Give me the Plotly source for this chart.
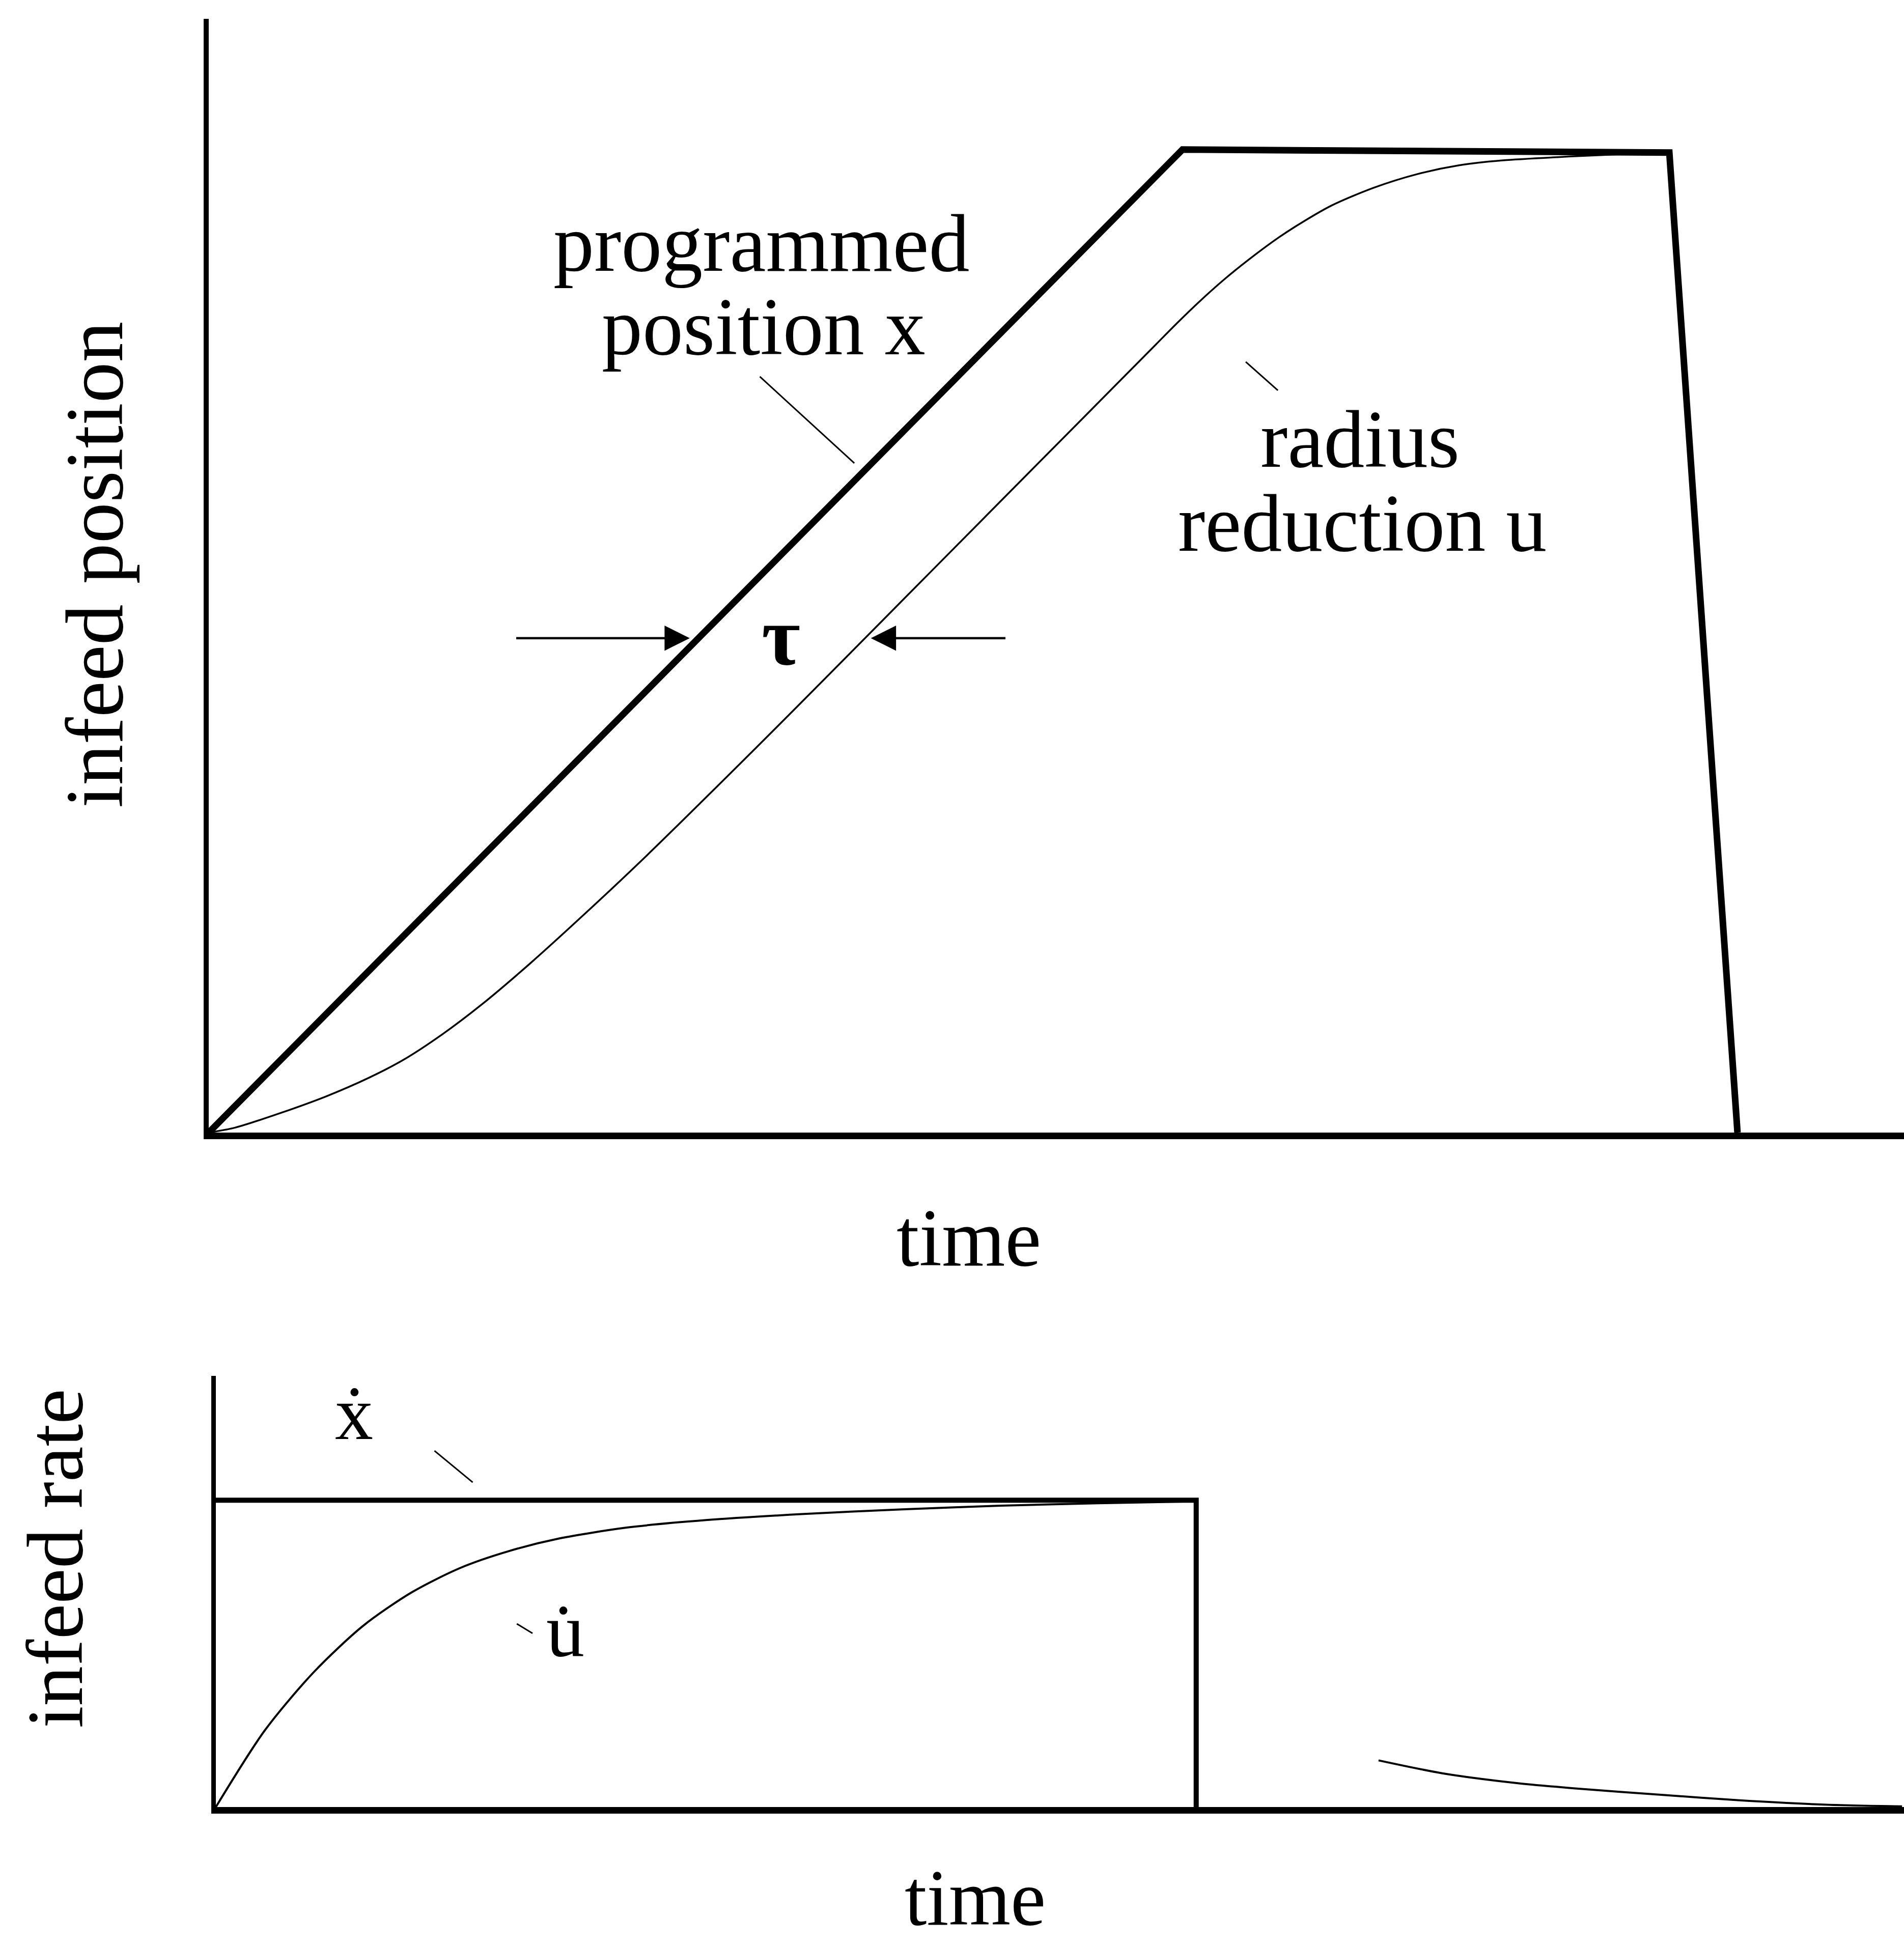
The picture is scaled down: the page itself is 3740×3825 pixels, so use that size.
import plotly.graph_objects as go

W, H = 3740, 3825

# ---- upper panel: infeed position vs time ----
prog_t = [0.0, 10.0, 15.0, 15.7]
prog_x = [0.0, 10.0, 9.97, 0.0]

u_t = [0.0, 0.27, 0.74, 1.21, 1.65, 2.0, 2.4, 2.8, 3.3, 3.9, 4.5, 5.2,
       6.0, 7.0, 8.0, 9.0, 9.73, 9.95, 10.17, 10.43, 10.68, 10.98, 11.23,
       11.53, 11.96, 12.41, 12.84, 13.29, 13.99, 14.44, 15.0]
u_val = [0.0, 0.05, 0.2, 0.37, 0.56, 0.74, 1.0, 1.3, 1.72, 2.26, 2.82, 3.5,
         4.29, 5.29, 6.29, 7.29, 8.02, 8.24, 8.45, 8.68, 8.88, 9.1, 9.26,
         9.43, 9.61, 9.75, 9.84, 9.89, 9.93, 9.95, 9.97]

# ---- lower panel: infeed rate vs time ----
xdot_t = [0.0, 10.0, 10.0]
xdot_val = [1.0, 1.0, 0.0]

udot_rise_t = [0.0, 0.5, 1.0, 1.5, 2.0, 2.5, 3.0, 3.5, 4.2, 5.0, 6.0, 7.0,
               8.0, 9.0, 10.0]
udot_rise = [0.0, 0.25, 0.44, 0.59, 0.70, 0.78, 0.835, 0.875, 0.911, 0.935,
             0.955, 0.97, 0.982, 0.99, 0.996]
udot_decay_t = [11.86, 12.51, 13.27, 13.85, 14.78, 15.54, 16.4, 17.2]
udot_decay = [0.152, 0.11, 0.078, 0.061, 0.039, 0.022, 0.008, 0.002]

FONT = "Liberation Serif, Times New Roman, DejaVu Serif, serif"
BLACK = "#000000"

fig = go.Figure()

fig.add_trace(go.Scatter(x=prog_t, y=prog_x, mode="lines", xaxis="x", yaxis="y",
                         line=dict(color=BLACK, width=13), cliponaxis=False,
                         showlegend=False, hoverinfo="skip"))
fig.add_trace(go.Scatter(x=u_t, y=u_val, mode="lines", xaxis="x", yaxis="y",
                         line=dict(color=BLACK, width=3.5, shape="spline", smoothing=0.8),
                         cliponaxis=False, showlegend=False, hoverinfo="skip"))

fig.add_trace(go.Scatter(x=xdot_t, y=xdot_val, mode="lines", xaxis="x2", yaxis="y2",
                         line=dict(color=BLACK, width=10), cliponaxis=False,
                         showlegend=False, hoverinfo="skip"))
fig.add_trace(go.Scatter(x=udot_rise_t, y=udot_rise, mode="lines", xaxis="x2", yaxis="y2",
                         line=dict(color=BLACK, width=4, shape="spline", smoothing=0.8),
                         cliponaxis=False, showlegend=False, hoverinfo="skip"))
fig.add_trace(go.Scatter(x=udot_decay_t, y=udot_decay, mode="lines", xaxis="x2", yaxis="y2",
                         line=dict(color=BLACK, width=4, shape="spline", smoothing=0.8),
                         cliponaxis=False, showlegend=False, hoverinfo="skip"))


def px_x(X):
    return X / W


def px_y(Y):
    return 1 - Y / H


axis_common = dict(showgrid=False, zeroline=False, ticks="", showticklabels=False,
                   showline=True, linecolor=BLACK, fixedrange=True)

fig.update_layout(
    width=W, height=H,
    margin=dict(l=0, r=0, t=0, b=0),
    paper_bgcolor="white", plot_bgcolor="white",
    xaxis=dict(domain=[px_x(410), 1.0], range=[0, 17.41], anchor="y",
               linewidth=13, **axis_common),
    yaxis=dict(domain=[px_y(2225), px_y(37)], range=[0, 11.33], anchor="x",
               linewidth=10, **axis_common),
    xaxis2=dict(domain=[px_x(424), 1.0], range=[0, 17.22], anchor="y2",
                linewidth=13, **axis_common),
    yaxis2=dict(domain=[px_y(3550), px_y(2703)], range=[0, 1.405], anchor="x2",
                linewidth=9, **axis_common),
)

annotations = []


def label(text, X, Y, size=160, angle=0, bold=False):
    annotations.append(dict(
        text=f"<b>{text}</b>" if bold else text,
        x=px_x(X), y=px_y(Y), xref="paper", yref="paper",
        xanchor="center", yanchor="middle", showarrow=False, textangle=angle,
        borderpad=0,
        font=dict(family=FONT, size=size, color=BLACK)))


label("programmed", 1496, 478)
label("position x", 1500, 642)
label("radius", 2671, 863)
label("reduction u", 2676, 1028)
label("time", 1903, 2432)
label("time", 1915, 3728, size=156)
label("infeed position", 186, 1110, angle=-90)
label("infeed rate", 108, 3062, size=157, angle=-90)
label("\u03c4", 1534, 1250, size=165, bold=True)
label("\u1e8b", 695, 2776, size=150)
label("u\u0307", 1110, 3203, size=150)

# tau arrows pointing at the two curves
for tip, tail in [(4.94, 3.15), (6.80, 8.19)]:
    annotations.append(dict(
        x=tip, y=5.03, ax=tail, ay=5.03, xref="x", yref="y", axref="x", ayref="y",
        text="", showarrow=True, arrowhead=2, arrowsize=2.2, arrowwidth=4.5,
        arrowcolor=BLACK))

fig.update_layout(annotations=annotations)

# thin leader lines from labels to curves
leaders = [
    ("x", "y", 5.66, 7.69, 6.63, 6.81),
    ("x", "y", 10.65, 7.84, 10.98, 7.55),
    ("x2", "y2", 2.23, 1.161, 2.62, 1.058),
    ("x2", "y2", 3.07, 0.597, 3.23, 0.566),
]
for xr, yr, x0, y0, x1, y1 in leaders:
    fig.add_shape(type="line", xref=xr, yref=yr, x0=x0, y0=y0, x1=x1, y1=y1,
                  line=dict(color=BLACK, width=3))

fig.write_html("out.html")
